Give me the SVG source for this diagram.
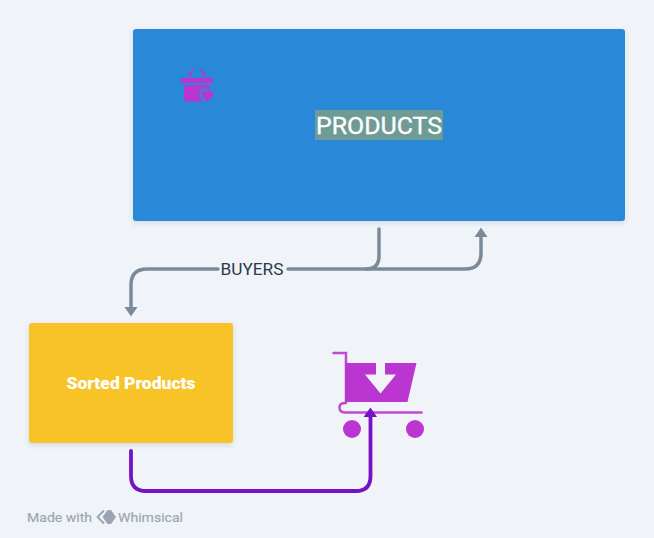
<svg xmlns="http://www.w3.org/2000/svg" width="654" height="538" viewBox="0 0 654 538">
<style>
text{font-family:"Roboto","Liberation Sans",sans-serif}
.conn{fill:none;stroke:#7b8a9a;stroke-width:3.500;stroke-linecap:round}
.head{fill:#7b8a9a}
.icon{fill:#bb35d0}
.card{filter:url(#sh)}
</style>
<defs>
<filter id="sh" x="-10%" y="-10%" width="120%" height="125%"><feDropShadow dx="0" dy="2" stdDeviation="2.500" flood-color="#2c3e50" flood-opacity="0.14"/></filter>
</defs>
<rect width="654" height="538" fill="#f0f4f8"/>
<g id="connectors">
<path class="conn" d="M379 229V256Q379 269 366 269H288"/>
<path class="conn" d="M218 269H147Q131 269 131 285V308"/>
<path class="head" d="M124.500 307H137.500L131 316.500Z"/>
<path class="conn" d="M366 269H465Q481 269 481 253V236"/>
<path class="head" d="M474.500 237H487.500L481 227.500Z"/>
</g>
<g id="products">
<rect class="card" x="133" y="29" width="492" height="192" rx="3" fill="#2c88d9"/>
<rect x="315" y="110" width="128" height="30" fill="#6f9b96"/>
<text x="379" y="133.500" font-size="24.500" font-weight="400" fill="#fff" stroke="#fff" stroke-width="0.300" text-anchor="middle" textLength="126" lengthAdjust="spacingAndGlyphs">PRODUCTS</text>
<g id="basket-icon">
<rect class="icon" x="181" y="78" width="32" height="5"/>
<rect class="icon" x="184" y="85" width="26" height="16.500"/>
<path d="M188.500 77L193 69M201 69L205.500 77" fill="none" stroke="#bb35d0" stroke-width="2"/>
<path class="icon" d="M207.500 101.500L202.500 96.500A3 3 0 0 1 207.500 92A3 3 0 0 1 212.500 96.500Z" stroke="#2c88d9" stroke-width="5" paint-order="stroke"/>
</g>
</g>
<g id="buyers-label">
<text x="252" y="274.500" font-size="16" fill="#2b3a4a" text-anchor="middle" textLength="63" lengthAdjust="spacingAndGlyphs">BUYERS</text>
</g>
<g id="sorted-products">
<rect class="card" x="29" y="323" width="204" height="120" rx="3" fill="#f7c325"/>
<text x="131" y="389" font-size="16" font-weight="900" fill="#fff" text-anchor="middle" textLength="129" lengthAdjust="spacingAndGlyphs">Sorted Products</text>
</g>
<g id="cart-icon">
<path class="icon" d="M345 363H376V374.500H365L380.500 393.500L396 374.500H385V363H416.500L407.500 402H345Z"/>
<path d="M333.500 353H346V403M346 403H345Q339.500 403 339.500 407.500Q339.500 412.500 345 412.500H421.500" fill="none" stroke="#bb35d0" stroke-width="2.500" stroke-linecap="round" stroke-opacity="0.9"/>
<circle class="icon" cx="352" cy="429" r="9"/>
<circle class="icon" cx="415" cy="429" r="9"/>
</g>
<g id="connector-purple">
<path d="M131 451V476Q131 491 146 491H356Q370.500 491 370.500 476V416" fill="none" stroke="#7512c4" stroke-width="3.800" stroke-linecap="round"/>
<path d="M363.500 417H377L370.500 407.500Z" fill="#7512c4"/>
</g>
<g id="watermark">
<text x="27" y="522" font-size="13" font-weight="400" fill="#9aa5b1" stroke="#9aa5b1" stroke-width="0.150" textLength="65" lengthAdjust="spacingAndGlyphs">Made with</text>
<path d="M104 510.500L97.500 517L104 523.500" fill="none" stroke="#9aa5b1" stroke-width="1.800"/>
<path d="M107.500 510H111L116 517L111 524H107.500L102.500 517Z" fill="#9aa5b1"/>
<text x="118" y="522" font-size="13" font-weight="400" fill="#9aa5b1" stroke="#9aa5b1" stroke-width="0.150" textLength="65" lengthAdjust="spacingAndGlyphs">Whimsical</text>
</g>
</svg>
